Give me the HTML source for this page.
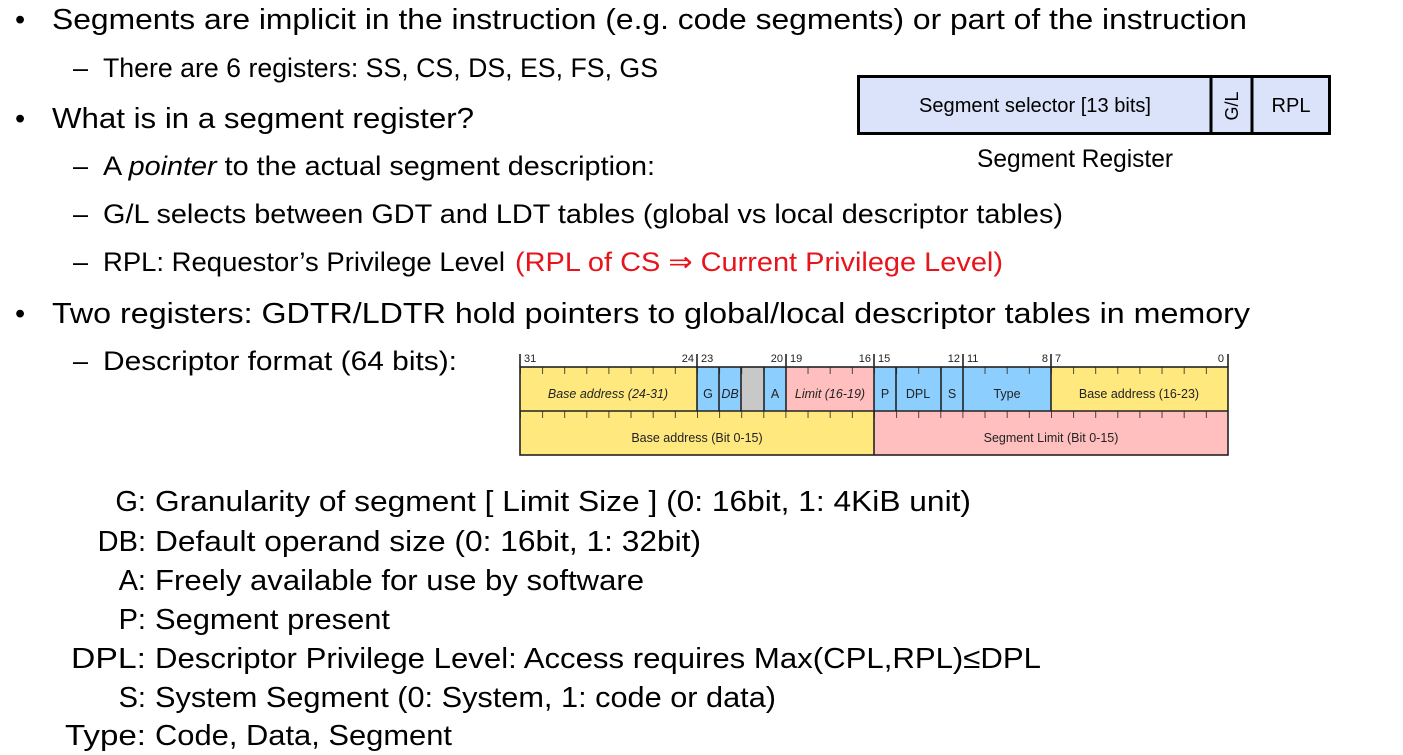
<!DOCTYPE html>
<html><head><meta charset="utf-8"><style>
html,body{margin:0;padding:0;background:#fff;width:1403px;height:755px;overflow:hidden}
svg{display:block}
text{font-family:"Liberation Sans","DejaVu Sans",sans-serif}
</style></head><body>
<svg width="1403" height="755" viewBox="0 0 1403 755" xmlns="http://www.w3.org/2000/svg">
<defs>
<pattern id="tk" x="520" y="367" width="22.125" height="44" patternUnits="userSpaceOnUse">
<line x1="0" y1="0" x2="0" y2="7" stroke="#222" stroke-width="1.6"/>
</pattern>
</defs>
<g font-size="29" fill="#000">
<text x="15" y="29">•</text>
<text x="52" y="29" textLength="1195" lengthAdjust="spacingAndGlyphs">Segments are implicit in the instruction (e.g. code segments) or part of the instruction</text>
<text x="15" y="128">•</text>
<text x="52" y="128" textLength="422" lengthAdjust="spacingAndGlyphs">What is in a segment register?</text>
<text x="15" y="323">•</text>
<text x="52" y="323" textLength="1198" lengthAdjust="spacingAndGlyphs">Two registers: GDTR/LDTR hold pointers to global/local descriptor tables in memory</text>
</g>
<g font-size="27" fill="#000">
<text x="73" y="77">–</text>
<text x="103" y="77" textLength="555" lengthAdjust="spacingAndGlyphs">There are 6 registers: SS, CS, DS, ES, FS, GS</text>
<text x="73" y="175">–</text>
<text x="103" y="175" textLength="552" lengthAdjust="spacingAndGlyphs">A <tspan font-style="italic">pointer</tspan> to the actual segment description:</text>
<text x="73" y="223">–</text>
<text x="103" y="223" textLength="960" lengthAdjust="spacingAndGlyphs">G/L selects between GDT and LDT tables (global vs local descriptor tables)</text>
<text x="73" y="271">–</text>
<text x="103" y="271" textLength="402" lengthAdjust="spacingAndGlyphs">RPL: Requestor’s Privilege Level</text>
<text x="515" y="271" fill="#e8141b" textLength="488" lengthAdjust="spacingAndGlyphs">(RPL of CS ⇒ Current Privilege Level)</text>
<text x="73" y="370">–</text>
<text x="103" y="370" textLength="354" lengthAdjust="spacingAndGlyphs">Descriptor format (64 bits):</text>
</g>
<!-- segment register -->
<rect x="858.5" y="76.5" width="471" height="57" fill="#dae3f9" stroke="#000" stroke-width="3"/>
<line x1="1211" y1="76" x2="1211" y2="134" stroke="#000" stroke-width="3"/>
<line x1="1252" y1="76" x2="1252" y2="134" stroke="#000" stroke-width="3"/>
<text x="1035" y="112" font-size="20" text-anchor="middle" textLength="232" lengthAdjust="spacingAndGlyphs">Segment selector [13 bits]</text>
<text x="0" y="0" font-size="18" text-anchor="middle" transform="translate(1238,106) rotate(-90)">G/L</text>
<text x="1291" y="112" font-size="20" text-anchor="middle">RPL</text>
<text x="1075" y="167" font-size="25" text-anchor="middle" textLength="196" lengthAdjust="spacingAndGlyphs">Segment Register</text>
<!-- descriptor -->
<g stroke="none">
<rect x="520" y="367" width="177" height="44" fill="#ffe97f"/>
<rect x="697" y="367" width="44" height="44" fill="#8ccfff"/>
<rect x="741" y="367" width="23" height="44" fill="#c8c8c8"/>
<rect x="764" y="367" width="22" height="44" fill="#8ccfff"/>
<rect x="786" y="367" width="88" height="44" fill="#ffbfbf"/>
<rect x="874" y="367" width="177" height="44" fill="#8ccfff"/>
<rect x="1051" y="367" width="177" height="44" fill="#ffe97f"/>
<rect x="520" y="411" width="354" height="44" fill="#ffe97f"/>
<rect x="874" y="411" width="354" height="44" fill="#ffbfbf"/>
</g>
<rect x="520" y="367" width="708" height="88" fill="url(#tk)"/>
<rect x="520" y="367" width="708" height="88" fill="none" stroke="#222" stroke-width="1.6"/>
<g stroke="#222" stroke-width="1.6">
<line x1="520" y1="411" x2="1228" y2="411"/>
<line x1="697" y1="367" x2="697" y2="411"/>
<line x1="719" y1="367" x2="719" y2="411"/>
<line x1="741" y1="367" x2="741" y2="411"/>
<line x1="764" y1="367" x2="764" y2="411"/>
<line x1="786" y1="367" x2="786" y2="411"/>
<line x1="874" y1="367" x2="874" y2="455"/>
<line x1="896" y1="367" x2="896" y2="411"/>
<line x1="941" y1="367" x2="941" y2="411"/>
<line x1="963" y1="367" x2="963" y2="411"/>
<line x1="1051" y1="367" x2="1051" y2="411"/>
<line x1="520" y1="354" x2="520" y2="367"/>
<line x1="697" y1="354" x2="697" y2="367"/>
<line x1="786" y1="354" x2="786" y2="367"/>
<line x1="874" y1="354" x2="874" y2="367"/>
<line x1="963" y1="354" x2="963" y2="367"/>
<line x1="1051" y1="354" x2="1051" y2="367"/>
<line x1="1228" y1="354" x2="1228" y2="367"/>
</g>
<g font-size="11" fill="#222">
<text x="524" y="362">31</text>
<text x="694" y="362" text-anchor="end">24</text>
<text x="701" y="362">23</text>
<text x="783" y="362" text-anchor="end">20</text>
<text x="790" y="362">19</text>
<text x="871" y="362" text-anchor="end">16</text>
<text x="878" y="362">15</text>
<text x="960" y="362" text-anchor="end">12</text>
<text x="967" y="362">11</text>
<text x="1048" y="362" text-anchor="end">8</text>
<text x="1055" y="362">7</text>
<text x="1224" y="362" text-anchor="end">0</text>
</g>
<g font-size="12.5" fill="#222" text-anchor="middle">
<text x="608" y="398" font-style="italic">Base address (24-31)</text>
<text x="708" y="398">G</text>
<text x="730" y="398" font-style="italic">DB</text>
<text x="775" y="398">A</text>
<text x="830" y="398" font-style="italic">Limit (16-19)</text>
<text x="885" y="398">P</text>
<text x="918" y="398">DPL</text>
<text x="952" y="398">S</text>
<text x="1007" y="398">Type</text>
<text x="1139" y="398">Base address (16-23)</text>
<text x="697" y="442">Base address (Bit 0-15)</text>
<text x="1051" y="442">Segment Limit (Bit 0-15)</text>
</g>
<!-- legend -->
<g font-size="29" fill="#000">
<g text-anchor="end">
<text x="146" y="511">G:</text>
<text x="146" y="551">DB:</text>
<text x="146" y="590">A:</text>
<text x="146" y="629">P:</text>
<text x="146" y="668" textLength="75" lengthAdjust="spacingAndGlyphs">DPL:</text>
<text x="146" y="707">S:</text>
<text x="146" y="745" textLength="81" lengthAdjust="spacingAndGlyphs">Type:</text>
</g>
<text x="155" y="511" textLength="816" lengthAdjust="spacingAndGlyphs">Granularity of segment [ Limit Size ] (0: 16bit, 1: 4KiB unit)</text>
<text x="155" y="551" textLength="546" lengthAdjust="spacingAndGlyphs">Default operand size (0: 16bit, 1: 32bit)</text>
<text x="155" y="590" textLength="489" lengthAdjust="spacingAndGlyphs">Freely available for use by software</text>
<text x="155" y="629" textLength="235" lengthAdjust="spacingAndGlyphs">Segment present</text>
<text x="155" y="668" textLength="886" lengthAdjust="spacingAndGlyphs">Descriptor Privilege Level: Access requires Max(CPL,RPL)≤DPL</text>
<text x="155" y="707" textLength="621" lengthAdjust="spacingAndGlyphs">System Segment (0: System, 1: code or data)</text>
<text x="155" y="745" textLength="297" lengthAdjust="spacingAndGlyphs">Code, Data, Segment</text>
</g>
</svg>
</body></html>
